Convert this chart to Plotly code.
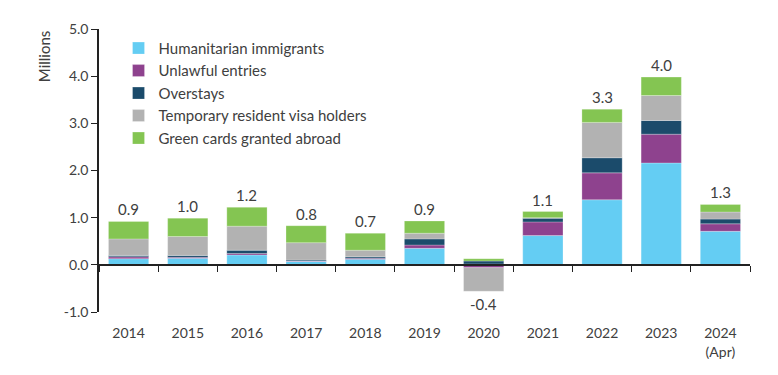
import plotly.graph_objects as go

years = ["2014", "2015", "2016", "2017", "2018", "2019", "2020", "2021", "2022", "2023", "2024<br>(Apr)"]
humanitarian = [0.13, 0.14, 0.21, 0.07, 0.12, 0.35, 0.02, 0.62, 1.38, 2.16, 0.71]
unlawful = [0.04, 0.02, 0.03, 0.01, 0.02, 0.07, -0.06, 0.29, 0.57, 0.61, 0.16]
overstays = [0.03, 0.04, 0.07, 0.02, 0.03, 0.13, 0.06, 0.08, 0.32, 0.29, 0.10]
temporary = [0.35, 0.40, 0.51, 0.37, 0.14, 0.12, -0.50, 0.01, 0.75, 0.53, 0.15]
greencards = [0.37, 0.39, 0.40, 0.36, 0.36, 0.26, 0.05, 0.13, 0.28, 0.39, 0.16]
totals = [0.9, 1.0, 1.2, 0.8, 0.7, 0.9, -0.4, 1.1, 3.3, 4.0, 1.3]
y_ticks = [-1, 0, 1, 2, 3, 4, 5]
y_ticktext = ["-1.0", "0.0", "1.0", "2.0", "3.0", "4.0", "5.0"]

series = [
    ("Humanitarian immigrants", humanitarian, "#64CDF3"),
    ("Unlawful entries", unlawful, "#8E428E"),
    ("Overstays", overstays, "#1B4B6B"),
    ("Temporary resident visa holders", temporary, "#B2B2B2"),
    ("Green cards granted abroad", greencards, "#84C552"),
]

FONT = "Lato"
TXT = "#404040"

fig = go.Figure()
for i, (name, vals, col) in enumerate(series):
    fig.add_trace(go.Bar(
        x=years, y=vals, name=name, legendgroup=f"g{i}",
        marker=dict(color=col, line=dict(color="rgba(255,255,255,0.5)", width=0.5)),
    ))

# total labels
all_series = [s[1] for s in series]
for j, yr in enumerate(years):
    pos = sum(v[j] for v in all_series if v[j] > 0)
    neg = sum(v[j] for v in all_series if v[j] < 0)
    t = totals[j]
    label = f"{t:.1f}"
    if t >= 0:
        fig.add_annotation(x=j, y=pos, text=label, showarrow=False,
                           yanchor="bottom", yshift=1,
                           font=dict(family=FONT, size=15, color=TXT))
    else:
        fig.add_annotation(x=j, y=neg, text=label, showarrow=False,
                           yanchor="top", yshift=-2,
                           font=dict(family=FONT, size=15, color=TXT))

fig.add_annotation(xref="paper", yref="paper", x=-0.085, y=1.0, xanchor="center",
                   yanchor="top", text="Millions", textangle=-90, showarrow=False,
                   font=dict(family=FONT, size=15, color=TXT))

fig.update_layout(
    barmode="relative",
    bargap=0.32,
    width=770, height=367,
    margin=dict(l=91, r=28, t=15, b=63),
    paper_bgcolor="white", plot_bgcolor="white",
    font=dict(family=FONT, size=14, color=TXT),
    showlegend=True,
    legend=dict(x=0.03, y=0.99, xanchor="left", yanchor="top",
                traceorder="grouped", tracegroupgap=0,
                bgcolor="rgba(0,0,0,0)",
                font=dict(family=FONT, size=15, color=TXT)),
    xaxis=dict(
        type="category", domain=[0, 1], range=[-0.5, 10.5],
        anchor="free", position=1/6,
        showline=True, linecolor="#222222", linewidth=1.5,
        ticks="outside", tickson="boundaries", ticklen=6, tickcolor="#222222",
        ticklabelstandoff=56, tickangle=0,
        showgrid=False, tickfont=dict(family=FONT, size=14, color=TXT),
    ),
    yaxis=dict(
        domain=[0, 1], range=[-1, 5], tickvals=y_ticks, ticktext=y_ticktext,
        showline=True, linecolor="#222222", linewidth=1.5,
        ticks="outside", ticklen=6, tickcolor="#222222",
        showgrid=False, zeroline=False,
        tickfont=dict(family=FONT, size=14, color=TXT),
    ),
)

fig.write_html("out.html")
